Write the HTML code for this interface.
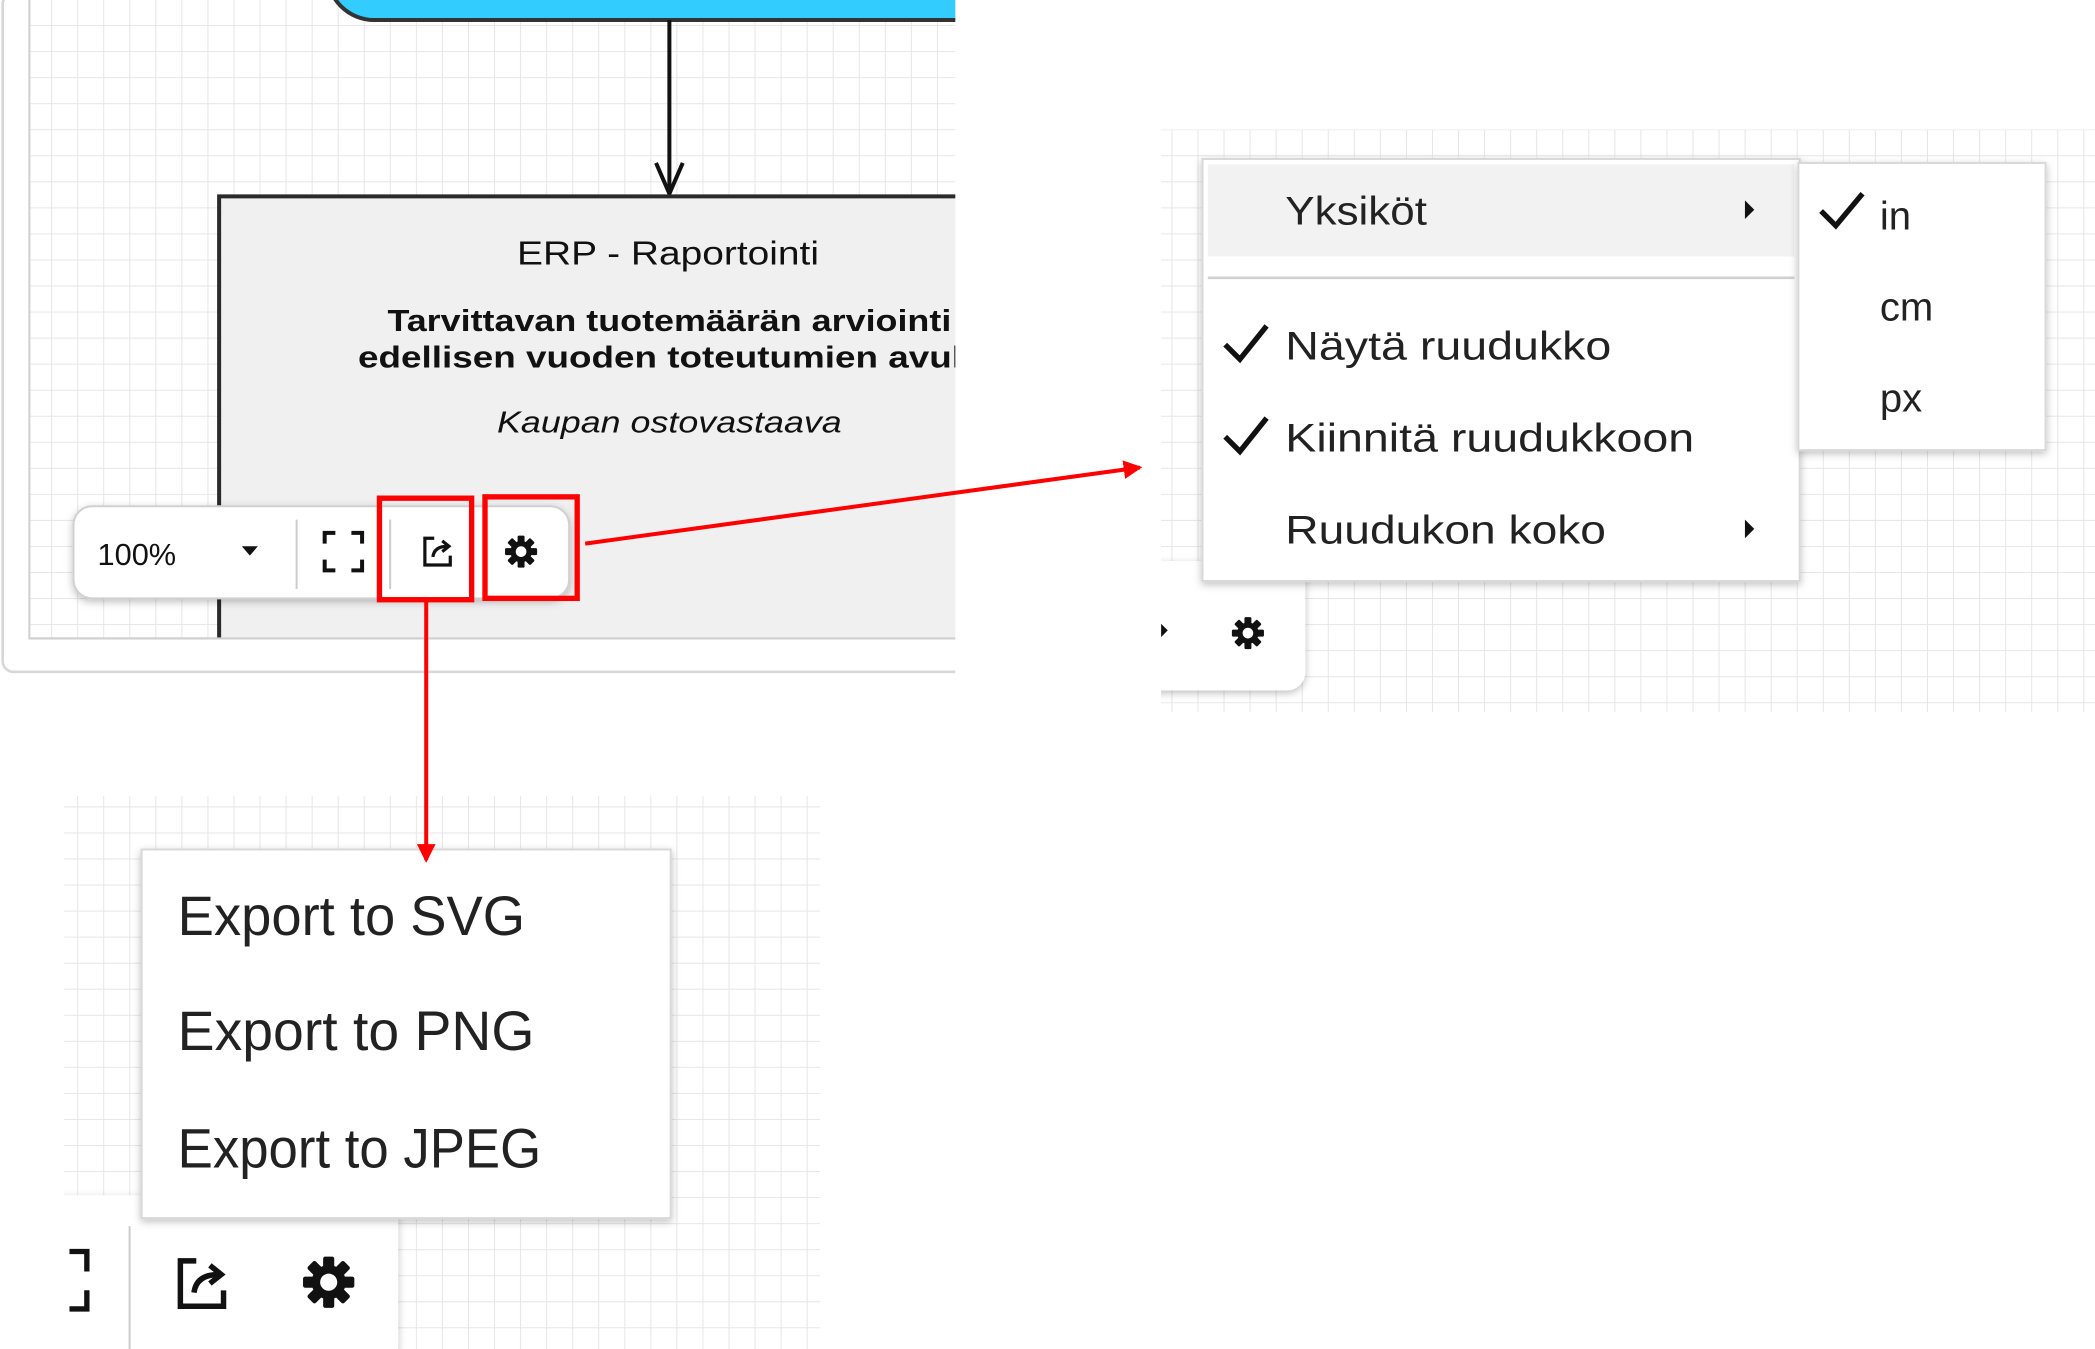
<!DOCTYPE html>
<html><head><meta charset="utf-8"><style>
html,body{margin:0;padding:0;background:#fff;}
svg{display:block;}
text{font-family:"Liberation Sans",sans-serif;}
</style></head><body>
<svg width="2095" height="1349" viewBox="0 0 1568 1010" preserveAspectRatio="none" xmlns="http://www.w3.org/2000/svg">
<defs>
<pattern id="g" width="19.5" height="19.5" patternUnits="userSpaceOnUse">
<path d="M19.5 0V19.5M0 19.5H19.5" stroke="#e6e6e6" stroke-width="1.5" fill="none"/>
</pattern>
<clipPath id="c1"><rect x="0" y="0" width="715" height="510"/></clipPath>
<clipPath id="c2"><rect x="869" y="90" width="699" height="443"/></clipPath>
<clipPath id="c3"><rect x="48" y="590" width="566" height="420"/></clipPath>
<filter id="sh" x="-10%" y="-10%" width="120%" height="130%"><feDropShadow dx="0" dy="2" stdDeviation="3" flood-color="#000" flood-opacity="0.25"/></filter>
<g id="gear">
<circle r="8" fill="#111"/>
<g fill="#111">
<rect x="-2.6" y="-12" width="5.2" height="24" rx="1"/>
<rect x="-2.6" y="-12" width="5.2" height="24" rx="1" transform="rotate(45)"/>
<rect x="-2.6" y="-12" width="5.2" height="24" rx="1" transform="rotate(90)"/>
<rect x="-2.6" y="-12" width="5.2" height="24" rx="1" transform="rotate(135)"/>
</g>
<circle r="4" fill="#fff"/>
</g>
<g id="exp" fill="none" stroke="#111" stroke-width="2.4">
<path d="M-3 -10H-10V10H9V3"/>
<path d="M-4 4Q-3 -4 7 -4"/>
<path d="M3 -8L8 -4L3 0"/>
</g>
<marker id="ra" markerWidth="14" markerHeight="14" refX="12" refY="7" orient="auto" markerUnits="userSpaceOnUse" viewBox="0 0 14 14"><path d="M0 0L14 7L0 14Z" fill="#f00"/></marker>
</defs>

<!-- Panel 1 -->
<g clip-path="url(#c1)">
<rect x="2" y="-5" width="760" height="508" fill="#fff" stroke="#d8d8d8" stroke-width="2" rx="8"/>
<rect x="22" y="-2" width="740" height="480" fill="url(#g)" stroke="#cfcfcf" stroke-width="1.5"/>
<rect x="245" y="-60" width="560" height="75" rx="35" fill="#33ccff" stroke="#333" stroke-width="3"/>
<line x1="501" y1="15" x2="501" y2="145" stroke="#111" stroke-width="3"/>
<path d="M491 122L501 145L511 122" fill="none" stroke="#111" stroke-width="3"/>
<rect x="164" y="147" width="600" height="331" fill="#f0f0f0"/>
<path d="M164 478V147H764" fill="none" stroke="#2a2a2a" stroke-width="3"/>
<line x1="22" y1="478" x2="715" y2="478" stroke="#cfcfcf" stroke-width="1.5"/>
<text x="387" y="198" font-size="25" textLength="226" lengthAdjust="spacingAndGlyphs" fill="#111">ERP - Raportointi</text>
<text x="290" y="248" font-size="23" font-weight="bold" textLength="422" lengthAdjust="spacingAndGlyphs" fill="#111">Tarvittavan tuotemäärän arviointi</text>
<text x="268" y="275" font-size="23" font-weight="bold" textLength="475" lengthAdjust="spacingAndGlyphs" fill="#111">edellisen vuoden toteutumien avulla</text>
<text x="372" y="324" font-size="23" font-style="italic" textLength="258" lengthAdjust="spacingAndGlyphs" fill="#111">Kaupan ostovastaava</text>
<rect x="55" y="379" width="371" height="69" rx="14" fill="#fff" stroke="#d0d0d0" stroke-width="1.5" filter="url(#sh)"/>
<text x="73" y="423" font-size="23" fill="#111">100%</text>
<path d="M181 409H193L187 416Z" fill="#111"/>
<line x1="222" y1="389" x2="222" y2="441" stroke="#ccc" stroke-width="1.5"/>
<path d="M243 407V399H251M263 399H271V407M271 419V427H263M251 427H243V419" fill="none" stroke="#111" stroke-width="3"/>
<line x1="292" y1="389" x2="292" y2="441" stroke="#ccc" stroke-width="1.5"/>
<use href="#exp" x="328" y="413"/>
<use href="#gear" x="390" y="413"/>
</g>
<rect x="284" y="373" width="69" height="76" fill="none" stroke="#f00" stroke-width="4"/>
<rect x="363" y="372" width="69" height="76" fill="none" stroke="#f00" stroke-width="4"/>

<!-- Panel 2 -->
<g clip-path="url(#c2)">
<rect x="869" y="97" width="699" height="436" fill="url(#g)"/>
<rect x="850" y="420" width="127" height="97" rx="14" fill="#fff" filter="url(#sh)"/>
<path d="M869 467L874 472L869 477Z" fill="#111"/>
<use href="#gear" x="934" y="474"/>
</g>
<rect x="900" y="119" width="447" height="316" fill="#fff" stroke="#d8d8d8" stroke-width="1.5" filter="url(#sh)"/>
<rect x="904" y="123" width="439" height="69" fill="#f2f2f2"/>
<line x1="904" y1="208" x2="1343" y2="208" stroke="#d0d0d0" stroke-width="2"/>
<text x="962" y="168" font-size="30" textLength="106" lengthAdjust="spacingAndGlyphs" fill="#222">Yksiköt</text>
<path d="M1306 150L1313 157L1306 164Z" fill="#111"/>
<path d="M917 258L928 269L948 244" fill="none" stroke="#111" stroke-width="4"/>
<text x="962" y="269" font-size="30" textLength="244" lengthAdjust="spacingAndGlyphs" fill="#222">Näytä ruudukko</text>
<path d="M917 327L928 338L948 313" fill="none" stroke="#111" stroke-width="4"/>
<text x="962" y="338" font-size="30" textLength="306" lengthAdjust="spacingAndGlyphs" fill="#222">Kiinnitä ruudukkoon</text>
<text x="962" y="407" font-size="30" textLength="240" lengthAdjust="spacingAndGlyphs" fill="#222">Ruudukon koko</text>
<path d="M1306 389L1313 396L1306 403Z" fill="#111"/>
<rect x="1346" y="122" width="185" height="215" fill="#fff" stroke="#d8d8d8" stroke-width="1.5" filter="url(#sh)"/>
<path d="M1363 158L1374 169L1394 145" fill="none" stroke="#111" stroke-width="4"/>
<text x="1407" y="172" font-size="30" fill="#222">in</text>
<text x="1407" y="240" font-size="30" fill="#222">cm</text>
<text x="1407" y="308" font-size="30" fill="#222">px</text>

<!-- Panel 3 -->
<g clip-path="url(#c3)">
<rect x="48" y="596" width="566" height="414" fill="url(#g)"/>
<rect x="20" y="895" width="278" height="130" rx="18" fill="#fff" filter="url(#sh)"/>
<path d="M52 937H65V952M65 966V980H52" fill="none" stroke="#111" stroke-width="4"/>
<line x1="97" y1="918" x2="97" y2="1010" stroke="#ccc" stroke-width="1.5"/>
<use href="#exp" x="152" y="961" transform="translate(152 961) scale(1.7) translate(-152 -961)"/>
<use href="#gear" x="246" y="960" transform="translate(246 960) scale(1.6) translate(-246 -960)"/>
</g>
<rect x="106" y="636" width="396" height="276" fill="#fff" stroke="#d8d8d8" stroke-width="1.5" filter="url(#sh)"/>
<text x="133" y="700" font-size="42" textLength="260" lengthAdjust="spacingAndGlyphs" fill="#222">Export to SVG</text>
<text x="133" y="786" font-size="42" textLength="267" lengthAdjust="spacingAndGlyphs" fill="#222">Export to PNG</text>
<text x="133" y="874" font-size="42" textLength="272" lengthAdjust="spacingAndGlyphs" fill="#222">Export to JPEG</text>

<!-- red connectors on top -->
<line x1="438" y1="407" x2="853" y2="350" stroke="#f00" stroke-width="3" marker-end="url(#ra)"/>
<line x1="319" y1="450" x2="319" y2="644" stroke="#f00" stroke-width="3" marker-end="url(#ra)"/>
</svg>
</body></html>
